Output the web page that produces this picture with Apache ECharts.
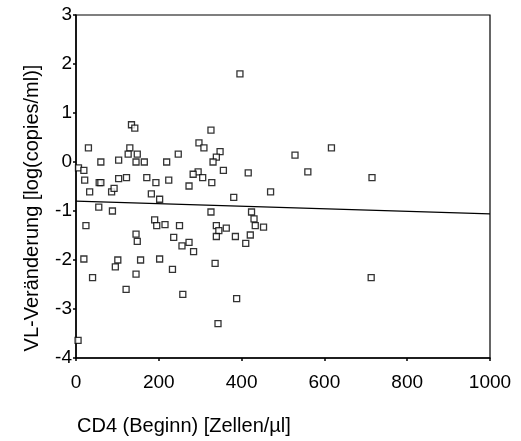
<!DOCTYPE html>
<html>
<head>
<meta charset="utf-8">
<script src="https://cdn.jsdelivr.net/npm/echarts@6/dist/echarts.min.js"></script>
<style>
  html, body { margin: 0; padding: 0; background: #fff; }
  #chart { width: 521px; height: 441px; }
</style>
</head>
<body>
<div id="chart"></div>
<script>
// CD4 count at start of therapy (cells/µl)
const cd4 = [
  396, 134, 142, 326, 30, 130, 297, 309, 348, 126, 148, 247, 339, 103, 60, 145,
  165, 219, 331, 6, 19, 356, 416, 295, 283, 21, 103, 122, 171, 224, 306, 56,
  60, 193, 328, 273, 33, 86, 92, 182, 202, 381,
  529, 617, 560, 715, 470,
  55, 88, 24, 190, 195, 215, 250, 326, 424, 430, 433, 339, 363, 345, 339, 385,
  421, 410, 145, 148, 236, 256, 273, 284, 453,
  19, 101, 95, 156, 202, 233, 336, 40, 145, 121, 258, 388, 343, 5, 713
];
// change in viral load (log copies/ml)
const vlChange = [
  1.80, 0.76, 0.69, 0.65, 0.29, 0.29, 0.39, 0.29, 0.21, 0.16, 0.16, 0.16, 0.10, 0.04, 0.00, 0.00,
  0.00, 0.00, 0.00, -0.12, -0.17, -0.17, -0.22, -0.20, -0.25, -0.37, -0.34, -0.32, -0.32, -0.37, -0.32, -0.42,
  -0.42, -0.42, -0.42, -0.49, -0.61, -0.61, -0.54, -0.65, -0.76, -0.72,
  0.14, 0.29, -0.20, -0.32, -0.61,
  -0.92, -1.00, -1.30, -1.18, -1.30, -1.28, -1.30, -1.02, -1.02, -1.16, -1.30, -1.30, -1.35, -1.40, -1.52, -1.52,
  -1.49, -1.66, -1.47, -1.62, -1.54, -1.71, -1.64, -1.83, -1.33,
  -1.98, -2.00, -2.14, -2.00, -1.98, -2.19, -2.07, -2.36, -2.29, -2.60, -2.70, -2.79, -3.30, -3.64, -2.36
];
// linear fit endpoints
const fitX = [0, 1000];
const fitY = [-0.80, -1.06];

const xTicks = { min: 0, max: 1000, step: 200 };
const yTicks = { min: -4, max: 3, step: 1 };

const points = cd4.map((v, i) => [v, vlChange[i]]);
const fitLine = fitX.map((v, i) => [v, fitY[i]]);

const FONT = '"Liberation Sans", Arial, sans-serif';
const chart = echarts.init(document.getElementById('chart'), null, { renderer: 'canvas' });

chart.setOption({
  animation: false,
  backgroundColor: '#fff',
  grid: {
    left: 76, right: 31, top: 15, bottom: 83,
    show: true, borderColor: '#000', borderWidth: 1.2, backgroundColor: 'transparent'
  },
  xAxis: {
    type: 'value',
    min: xTicks.min, max: xTicks.max, interval: xTicks.step,
    axisLine: { show: true, onZero: false, lineStyle: { color: '#000', width: 1.5 } },
    axisTick: { show: true, length: 3, lineStyle: { color: '#000', width: 1.5 } },
    axisLabel: { color: '#000', fontSize: 19, fontFamily: FONT, margin: 15, formatter: v => String(v) },
    splitLine: { show: false }
  },
  yAxis: {
    type: 'value',
    min: yTicks.min, max: yTicks.max, interval: yTicks.step,
    axisLine: { show: true, onZero: false, lineStyle: { color: '#000', width: 1.5 } },
    axisTick: { show: true, length: 3, lineStyle: { color: '#000', width: 1.5 } },
    axisLabel: { color: '#000', fontSize: 19, fontFamily: FONT, margin: 4 },
    splitLine: { show: false }
  },
  graphic: [
    {
      type: 'text', x: 32, y: 208, rotation: Math.PI / 2,
      style: {
        text: 'VL-Veränderung [log(copies/ml)]', fill: '#000',
        font: '20px ' + FONT, align: 'center', verticalAlign: 'middle'
      }
    },
    {
      type: 'text', x: 77, y: 426,
      style: {
        text: 'CD4 (Beginn) [Zellen/µl]', fill: '#000',
        font: '20px ' + FONT, align: 'left', verticalAlign: 'middle'
      }
    }
  ],
  series: [
    {
      type: 'scatter',
      data: points,
      symbol: 'rect',
      symbolSize: 6,
      itemStyle: { color: '#fff', borderColor: '#000', borderWidth: 1.3 },
      z: 3
    },
    {
      type: 'line',
      data: fitLine,
      showSymbol: false,
      symbol: 'none',
      lineStyle: { color: '#000', width: 1.3 },
      z: 2
    }
  ]
});
</script>
</body>
</html>
